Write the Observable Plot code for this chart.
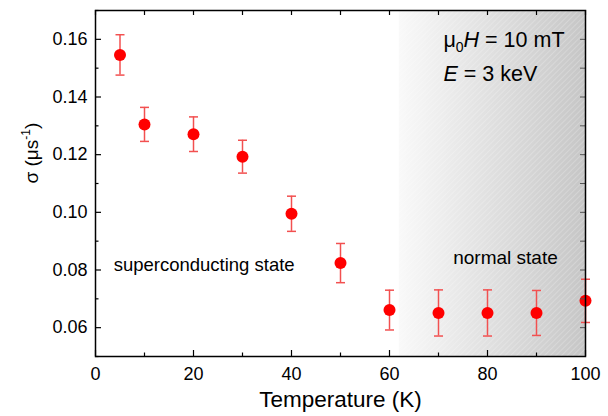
<!DOCTYPE html>
<html>
<head>
<meta charset="utf-8">
<script src="https://cdn.jsdelivr.net/npm/d3@7"></script>
<script src="https://cdn.jsdelivr.net/npm/@observablehq/plot@0.6"></script>
<style>
  html, body { margin: 0; padding: 0; background: white; }
  svg text { font-family: "Liberation Sans", Arial, Helvetica, sans-serif; }
</style>
</head>
<body>
<div id="chart"></div>
<script>
// ---- data ----
const temps = [5, 10, 20, 30, 40, 50, 60, 70, 80, 90, 100];
const sigma = [0.1546, 0.1305, 0.1271, 0.1193, 0.0995, 0.0824, 0.0661, 0.0651, 0.0651, 0.0651, 0.0693];
const sigmaErr = [0.0070, 0.0059, 0.0060, 0.0057, 0.0061, 0.0068, 0.0069, 0.0080, 0.0080, 0.0078, 0.0075];

const xDomain = [0, 100];
const yDomain = [0.05, 0.17];
const xMajorTicks = [0, 20, 40, 60, 80, 100];
const xMinorTicks = [10, 30, 50, 70, 90];
const yMajorTicks = [0.06, 0.08, 0.10, 0.12, 0.14, 0.16];
const yMinorTicks = [0.05, 0.07, 0.09, 0.11, 0.13, 0.15, 0.17];
const normalRegion = [{start: 62, end: 100}];

const scLabel = [{x: 3.7, y: 0.0795, text: "superconducting state"}];
const nsLabel = [{x: 73, y: 0.0820, text: "normal state"}];
const fieldLabel = [{x: 71, y: 0.1573, text: "μ0H = 10 mT"}];
const energyLabel = [{x: 71, y: 0.1455, text: "E = 3 keV"}];

const data = temps.map((t, i) => ({t, s: sigma[i], lo: sigma[i] - sigmaErr[i], hi: sigma[i] + sigmaErr[i]}));

const W = 608, H = 416, ML = 95, MR = 23, MT = 10, MB = 60;
const innerW = W - ML - MR, innerH = H - MT - MB;

const capSymbol = {
  draw(ctx, size) { ctx.moveTo(-4.5, 0); ctx.lineTo(4.5, 0); }
};

const errColor = "#f25050";

const plot = Plot.plot({
  width: W, height: H,
  marginLeft: ML, marginRight: MR, marginTop: MT, marginBottom: MB,
  x: {domain: xDomain},
  y: {domain: yDomain},
  style: {fontFamily: "Liberation Sans, Arial, sans-serif", fontSize: "18px", color: "black", background: "white"},
  marks: [
    Plot.rect(normalRegion, {x1: "start", x2: "end", y1: () => yDomain[0], y2: () => yDomain[1], fill: "url(#shadeGrad)"}),
    Plot.rect(normalRegion, {x1: "start", x2: "end", y1: () => yDomain[0], y2: () => yDomain[1], fill: "url(#hatch)"}),
    // error bars
    Plot.ruleX(data, {x: "t", y1: "lo", y2: "hi", stroke: errColor, strokeWidth: 1.5}),
    Plot.dot(data, {x: "t", y: "hi", symbol: capSymbol, stroke: errColor, strokeWidth: 1.5, fill: "none", r: 4}),
    Plot.dot(data, {x: "t", y: "lo", symbol: capSymbol, stroke: errColor, strokeWidth: 1.5, fill: "none", r: 4}),
    Plot.dot(data, {x: "t", y: "s", r: 6, fill: "#ff0000", stroke: "none"}),
    // inward ticks
    Plot.tickX(xMajorTicks, {x: d => d, insetTop: innerH - 6, stroke: "black", strokeWidth: 1.2}),
    Plot.tickX(xMinorTicks, {x: d => d, insetTop: innerH - 3.5, stroke: "black", strokeWidth: 1.2}),
    Plot.tickX(xMajorTicks.concat(xMinorTicks), {x: d => d, insetBottom: innerH - 5, stroke: "black", strokeWidth: 1.2}),
    Plot.tickY(yMajorTicks, {y: d => d, insetRight: innerW - 6, stroke: "black", strokeWidth: 1.2}),
    Plot.tickY(yMinorTicks, {y: d => d, insetRight: innerW - 3.5, stroke: "black", strokeWidth: 1.2}),
    Plot.tickY(yMajorTicks.concat(yMinorTicks), {y: d => d, insetLeft: innerW - 5, stroke: "#555", strokeWidth: 1}),
    // axes labels
    Plot.axisX({ticks: xMajorTicks, tickSize: 0, tickPadding: 11, fontSize: 18, label: null, tickFormat: d => String(d)}),
    Plot.axisY({ticks: yMajorTicks, tickSize: 0, tickPadding: 8, fontSize: 18, label: null, tickFormat: d3.format(".2f")}),
    Plot.frame({stroke: "black", strokeWidth: 1.5}),
    // annotations
    Plot.text(scLabel, {x: "x", y: "y", text: "text", textAnchor: "start", lineAnchor: "bottom", fontSize: 18.5, fill: "black"}),
    Plot.text(nsLabel, {x: "x", y: "y", text: "text", textAnchor: "start", lineAnchor: "bottom", fontSize: 19, fill: "black"}),
    Plot.text(fieldLabel, {x: "x", y: "y", text: "text", textAnchor: "start", lineAnchor: "bottom", fontSize: 21.5, fill: "black", className: "fieldlab"}),
    Plot.text(energyLabel, {x: "x", y: "y", text: "text", textAnchor: "start", lineAnchor: "bottom", fontSize: 21.5, fill: "black", className: "energylab"}),
    Plot.text(["Temperature (K)"], {frameAnchor: "bottom", dy: 50, fontSize: 22.5, fill: "black"}),
    Plot.text(["σ (μs-1)"], {frameAnchor: "left", dx: -64, dy: 0, rotate: -90, fontSize: 19, fill: "black", className: "ylab"})
  ]
});

// defs: gradient + hatch pattern
const svgNS = "http://www.w3.org/2000/svg";
const defs = document.createElementNS(svgNS, "defs");
defs.innerHTML = `
  <linearGradient id="shadeGrad" x1="0" x2="1" y1="0" y2="0">
    <stop offset="0" stop-color="#f9f9f9"/>
    <stop offset="1" stop-color="#c6c6c6"/>
  </linearGradient>
  <pattern id="hatch" patternUnits="userSpaceOnUse" width="4" height="4" patternTransform="rotate(45)">
    <line x1="0" y1="0" x2="0" y2="4" stroke="white" stroke-opacity="0.35" stroke-width="1.2"/>
  </pattern>`;
plot.insertBefore(defs, plot.firstChild);

// rich text: subscripts, superscripts, italics
function rich(sel, parts) {
  const t = plot.querySelector(sel + " text");
  if (!t) return;
  t.textContent = "";
  for (const p of parts) {
    const ts = document.createElementNS(svgNS, "tspan");
    ts.textContent = p.t;
    if (p.italic) ts.setAttribute("font-style", "italic");
    if (p.size) ts.setAttribute("font-size", p.size);
    if (p.dy) ts.setAttribute("dy", p.dy);
    t.appendChild(ts);
  }
}
rich(".fieldlab", [{t: "μ"}, {t: "0", size: 14, dy: 5}, {t: "H", italic: true, dy: -5}, {t: " = 10 mT"}]);
rich(".energylab", [{t: "E", italic: true}, {t: " = 3 keV"}]);
rich(".ylab", [{t: "σ (μs"}, {t: "-1", size: 12, dy: -8}, {t: ")", dy: 8}]);

document.getElementById("chart").appendChild(plot);
</script>
</body>
</html>
